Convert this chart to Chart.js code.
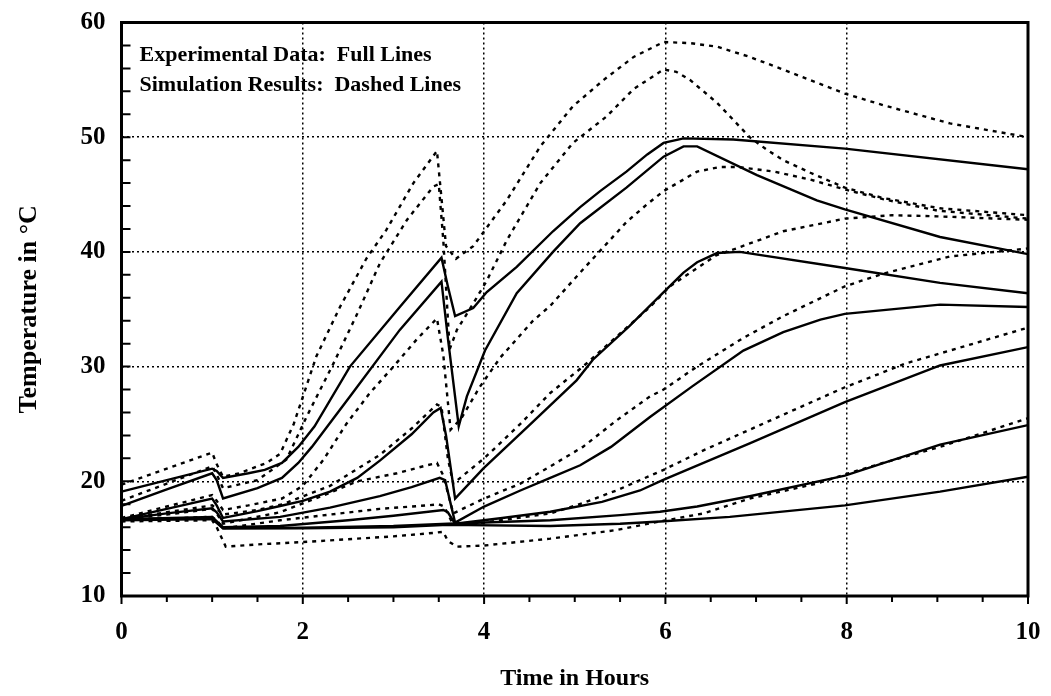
<!DOCTYPE html>
<html>
<head>
<meta charset="utf-8">
<script src="https://cdn.jsdelivr.net/npm/chart.js@4.4.0/dist/chart.umd.min.js"></script>
<style>
  html, body { margin: 0; padding: 0; background: #fff; }
  #wrap { width: 1051px; height: 696px; }
</style>
</head>
<body>
<div id="wrap"><canvas id="tempChart" width="1051" height="696"></canvas></div>
<script>
// ===================================== data
// each point is [time in hours, temperature in °C]

// experimental data (full lines)
const exp1 = [[0,19.1],[0.5,20.1],[1.0,21.1],[1.05,20.9],[1.12,20.3],[1.4,20.7],[1.58,21.0],[1.77,21.6],[1.95,23.0],[2.13,24.8],[2.52,30.0],[3.07,35.2],[3.53,39.5],[3.6,37.0],[3.68,34.4],[3.88,35.1],[4.03,36.5],[4.36,38.7],[4.76,41.8],[5.06,43.9],[5.28,45.3],[5.57,47.0],[5.8,48.5],[5.98,49.5],[6.2,49.9],[6.75,49.8],[7.98,49.0],[10,47.2]];
const exp2 = [[0,17.85],[0.5,19.3],[1.0,20.7],[1.05,20.1],[1.12,18.5],[1.5,19.4],[1.77,20.3],[1.95,21.6],[2.1,23.0],[2.52,27.4],[3.07,33.2],[3.53,37.4],[3.6,32.5],[3.72,24.8],[3.81,27.4],[4.01,31.4],[4.36,36.4],[4.76,40.0],[5.06,42.5],[5.57,45.6],[5.98,48.3],[6.2,49.2],[6.35,49.2],[7.01,46.7],[7.67,44.5],[7.98,43.7],[9.03,41.3],[10,39.8]];
const exp3 = [[0,16.7],[0.5,17.6],[1.0,18.5],[1.05,17.9],[1.12,16.8],[1.5,17.4],[1.75,17.85],[2.0,18.3],[2.3,19.1],[2.6,20.3],[2.85,21.8],[3.2,24.1],[3.44,26.0],[3.52,26.4],[3.58,24.0],[3.68,18.5],[3.99,21.1],[4.5,24.9],[5.02,28.8],[5.2,30.6],[5.6,33.5],[5.97,36.4],[6.2,38.2],[6.35,39.1],[6.57,39.9],[6.82,40.0],[7.98,38.6],[9.03,37.3],[10,36.4]];
const exp4 = [[0,16.7],[0.5,17.2],[1.0,17.65],[1.05,17.3],[1.12,16.5],[1.75,16.9],[2.3,17.7],[2.85,18.7],[3.2,19.5],[3.51,20.3],[3.57,20.1],[3.68,16.4],[4.0,17.8],[4.4,19.2],[4.73,20.3],[5.06,21.4],[5.4,23.0],[5.83,25.6],[6.3,28.3],[6.86,31.4],[7.3,33.0],[7.71,34.1],[7.98,34.6],[9.03,35.4],[10,35.2]];
const exp5 = [[0,16.7],[1.0,16.9],[1.12,16.0],[1.75,16.1],[2.5,16.6],[3.0,17.0],[3.55,17.5],[3.6,17.3],[3.68,16.3],[4.2,16.8],[4.73,17.35],[5.3,18.2],[5.72,19.2],[5.97,20.1],[6.42,21.6],[6.93,23.3],[7.98,26.9],[9.03,30.1],[10,31.7]];
const exp6 = [[0,16.7],[1.0,16.8],[1.12,15.9],[2.0,15.95],[3.0,16.1],[3.6,16.3],[4.73,16.6],[5.5,17.05],[5.94,17.35],[6.35,17.8],[6.93,18.7],[7.98,20.5],[9.03,23.2],[10,24.9]];
const exp7 = [[0,16.6],[1.0,16.7],[1.12,15.9],[2.0,15.9],[3.0,16.0],[3.6,16.2],[4.73,16.1],[5.5,16.3],[5.94,16.5],[6.71,16.9],[7.98,17.9],[9.03,19.1],[10,20.4]];

// simulation results (dashed lines)
const sim1 = [[0,19.7],[0.5,21.1],[1.0,22.5],[1.05,21.5],[1.12,20.4],[1.3,20.7],[1.6,21.6],[1.75,22.4],[1.9,25.0],[2.15,30.9],[2.41,35.2],[2.7,39.4],[2.92,41.9],[3.22,46.0],[3.48,48.8],[3.52,45.5],[3.58,40.5],[3.69,39.4],[3.88,40.5],[4.25,44.5],[4.62,49.2],[4.98,52.7],[5.32,55.0],[5.65,57.0],[5.98,58.3],[6.27,58.2],[6.57,57.9],[6.93,57.0],[7.3,55.9],[7.98,53.8],[8.4,52.8],[9.14,51.2],[10,50.0]];
const sim2 = [[0,18.3],[0.5,19.8],[1.0,21.3],[1.05,20.6],[1.12,19.4],[1.5,20.1],[1.82,21.9],[2.04,25.6],[2.34,30.3],[2.6,34.6],[2.85,39.0],[3.15,42.8],[3.44,45.7],[3.5,45.9],[3.55,41.0],[3.62,31.5],[3.7,33.2],[3.88,35.5],[4.03,37.5],[4.25,41.0],[4.62,46.0],[4.98,49.5],[5.35,51.8],[5.65,54.2],[5.98,55.9],[6.12,55.7],[6.27,55.0],[6.57,53.0],[6.93,50.0],[7.12,48.9],[7.3,48.0],[7.6,46.9],[7.98,45.6],[8.4,44.7],[9.03,43.8],[10,43.2]];
const sim3 = [[0,16.8],[0.5,17.8],[1.0,18.8],[1.05,18.3],[1.12,17.5],[1.4,17.9],[1.77,18.5],[2.0,19.6],[2.23,21.9],[2.48,25.0],[2.74,27.7],[3.0,30.0],[3.26,32.4],[3.48,34.2],[3.55,31.0],[3.63,24.5],[3.75,25.5],[3.95,28.2],[4.18,30.8],[4.54,34.0],[4.73,35.3],[5.06,38.2],[5.35,40.7],[5.57,42.6],[5.79,44.1],[5.98,45.3],[6.35,47.0],[6.6,47.4],[6.8,47.4],[7.2,47.0],[7.6,46.3],[8,45.4],[8.4,44.6],[9,43.6],[10,42.9]];
const sim4 = [[0,16.7],[0.5,17.3],[1.0,17.9],[1.05,17.6],[1.12,17.1],[1.5,17.5],[1.78,18.0],[2.3,19.6],[2.85,22.3],[3.2,24.6],[3.48,26.7],[3.53,26.5],[3.6,22.0],[3.66,19.8],[4.0,22.0],[4.4,25.0],[4.73,27.7],[5.09,30.0],[5.46,32.6],[5.83,35.2],[6.05,37.0],[6.56,39.7],[6.78,40.3],[7.3,41.8],[7.98,42.9],[8.5,43.2],[9,43.1],[10,42.8]];
const sim5 = [[0,16.7],[0.5,17.1],[1.0,17.6],[1.05,17.2],[1.12,16.3],[1.75,17.3],[2.3,19.0],[2.6,20.0],[3.04,20.7],[3.37,21.4],[3.48,21.6],[3.55,20.5],[3.66,17.2],[4.0,18.5],[4.4,19.8],[4.73,21.3],[5.09,23.0],[5.46,25.3],[5.83,27.4],[5.98,28.0],[6.35,30.0],[6.86,32.5],[7.3,34.4],[7.98,37.0],[8.4,38.1],[9.14,39.6],[10,40.3]];
const sim6 = [[0,16.6],[1.0,16.9],[1.05,16.6],[1.12,15.9],[1.75,16.6],[2.85,17.6],[3.37,17.9],[3.5,18.0],[3.56,17.8],[3.66,16.2],[4.0,16.4],[4.73,17.2],[5.09,18.1],[5.46,19.2],[5.98,21.0],[6.42,22.7],[6.93,24.5],[7.98,28.2],[8.66,30.3],[9.14,31.4],[10,33.4]];
const sim7 = [[0,16.5],[1.0,16.6],[1.05,16.0],[1.15,14.3],[1.5,14.5],[2.0,14.7],[3.0,15.2],[3.44,15.5],[3.55,15.6],[3.6,14.8],[3.7,14.3],[4.0,14.4],[4.73,15.0],[5.46,15.75],[5.94,16.5],[6.42,17.2],[6.93,18.5],[7.67,19.8],[7.98,20.6],[8.4,21.6],[9.03,23.0],[10,25.5]];

const expSeries = [exp1, exp2, exp3, exp4, exp5, exp6, exp7];
const simSeries = [sim1, sim2, sim3, sim4, sim5, sim6, sim7];

const xRange = [0, 10];
const yRange = [10, 60];
const xMajorStep = 2;
const yMajorStep = 10;
const xMinorStep = 0.5;
const yMinorStep = 2;

const legendLines = ["Experimental Data:  Full Lines", "Simulation Results:  Dashed Lines"];
const xTitle = "Time in Hours";
const yTitle = "Temperature in °C";

const FONT = '"Liberation Serif", "Times New Roman", serif';

// ========================================

function toPoints(series) {
  return series.map(p => ({ x: p[0], y: p[1] }));
}

const datasets = [];
simSeries.forEach(s => {
  datasets.push({
    data: toPoints(s),
    borderColor: "#000",
    borderWidth: 2.4,
    borderDash: [4, 5],
    borderCapStyle: "butt",
    pointRadius: 0,
    tension: 0,
    fill: false,
  });
});
expSeries.forEach(s => {
  datasets.push({
    data: toPoints(s),
    borderColor: "#000",
    borderWidth: 2.4,
    pointRadius: 0,
    tension: 0,
    fill: false,
  });
});

// minor tick marks, the frame and the note in the upper left corner
const frameAndNotes = {
  id: "frameAndNotes",
  afterDraw(chart) {
    const { ctx, chartArea: a, scales } = chart;
    const x = scales.x, y = scales.y;
    ctx.save();
    ctx.strokeStyle = "#000";
    ctx.lineWidth = 2;
    ctx.beginPath();
    for (let v = xRange[0]; v <= xRange[1] + 1e-9; v += xMinorStep) {
      const px = x.getPixelForValue(v);
      const len = (Math.abs(v % xMajorStep) < 1e-9) ? 8 : 6;
      ctx.moveTo(px, a.bottom);
      ctx.lineTo(px, a.bottom + len);
    }
    for (let v = yRange[0] + yMinorStep; v < yRange[1]; v += yMinorStep) {
      const py = y.getPixelForValue(v);
      ctx.moveTo(a.left, py);
      ctx.lineTo(a.left + 9, py);
    }
    ctx.stroke();

    ctx.lineWidth = 3;
    ctx.strokeRect(a.left, a.top, a.right - a.left, a.bottom - a.top);

    ctx.fillStyle = "#000";
    ctx.font = "bold 22px " + FONT;
    ctx.textAlign = "left";
    ctx.textBaseline = "alphabetic";
    ctx.fillText(legendLines[0], a.left + 18, a.top + 38);
    ctx.fillText(legendLines[1], a.left + 18, a.top + 68);
    ctx.restore();
  }
};

const ctx = document.getElementById("tempChart").getContext("2d");
const tempChart = new Chart(ctx, {
  type: "line",
  data: { datasets: datasets },
  plugins: [frameAndNotes],
  options: {
    responsive: false,
    animation: false,
    devicePixelRatio: 1,
    layout: { padding: { top: 22.5, right: 23, bottom: 0, left: 0 } },
    plugins: {
      legend: { display: false },
      tooltip: { enabled: false },
    },
    scales: {
      x: {
        type: "linear",
        min: xRange[0],
        max: xRange[1],
        afterFit(scale) {
          scale.height = 100;
          scale.paddingLeft = 0;
          scale.paddingRight = 0;
        },
        ticks: {
          stepSize: xMajorStep,
          color: "#000",
          padding: 22,
          maxRotation: 0,
          font: { family: FONT, size: 25, weight: "bold" },
        },
        grid: {
          color: c => (c.tick && (c.tick.value === xRange[0] || c.tick.value === xRange[1])) ? "rgba(0,0,0,0)" : "#000",
          lineWidth: 1.5,
          drawTicks: false,
        },
        border: { display: false, dash: [2, 3] },
        title: {
          display: true,
          text: xTitle,
          color: "#000",
          padding: { top: 0, bottom: 3 },
          font: { family: FONT, size: 24, weight: "bold" },
        },
      },
      y: {
        type: "linear",
        min: yRange[0],
        max: yRange[1],
        afterFit(scale) {
          scale.width = 121.5;
          scale.paddingTop = 0;
          scale.paddingBottom = 0;
        },
        ticks: {
          stepSize: yMajorStep,
          color: "#000",
          padding: 16,
          font: { family: FONT, size: 25, weight: "bold" },
        },
        grid: {
          color: c => (c.tick && (c.tick.value === yRange[0] || c.tick.value === yRange[1])) ? "rgba(0,0,0,0)" : "#000",
          lineWidth: 1.5,
          drawTicks: false,
        },
        border: { display: false, dash: [2, 3] },
        title: {
          display: true,
          text: yTitle,
          color: "#000",
          padding: { top: 14, bottom: 0 },
          font: { family: FONT, size: 26, weight: "bold" },
        },
      },
    },
  },
});
</script>
</body>
</html>
